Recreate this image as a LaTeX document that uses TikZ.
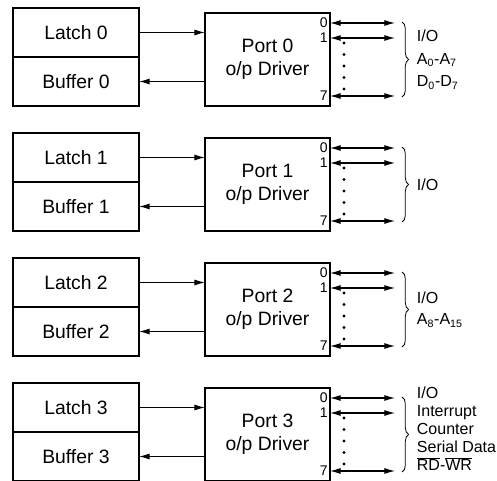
\documentclass[tikz,border=0pt]{standalone}
\usepackage{fontspec}
\setmainfont{Liberation Sans}
\usetikzlibrary{positioning, arrows.meta, decorations.pathreplacing}

\tikzset{
  blk/.style={draw, line width=1pt, outer sep=0pt, inner sep=0pt,
    minimum width=94.5pt, minimum height=36.75pt,
    font=\fontsize{14.5}{16}\selectfont},
  portblk/.style={draw, line width=1pt, outer sep=0pt, align=center,
    minimum width=93.75pt, minimum height=69.75pt,
    font=\fontsize{14.5}{17.5}\selectfont},
  pinnum/.style={anchor=east, inner sep=1.5pt, font=\fontsize{10.5}{10.5}\selectfont},
  sig/.style={-{Latex[length=8pt,width=4.5pt]}, line width=0.8pt},
  bus/.style={{Latex[length=8pt,width=4.5pt]}-{Latex[length=8pt,width=4.5pt]}, line width=0.8pt},
  pinbrace/.style={decorate, decoration={brace, amplitude=5pt}, line width=0.6pt},
  siglabel/.style={align=left, inner sep=0pt, font=\fontsize{12}{13.5}\selectfont},
}

\begin{document}
\begin{tikzpicture}[x=0.75pt, y=-0.75pt]
    \useasboundingbox (0,0) rectangle (497,481);

    % --- ONE GROUP PER PORT: latch, buffer, driver, pins ---
    \foreach \i/\t in {0/8, 1/133, 2/258, 3/383} {
        \node[blk, anchor=north west] (latch\i) at (13,\t) {Latch \i};
        \node[blk, anchor=north west] (buf\i) at (latch\i.south west) {Buffer \i};
        \node[portblk, anchor=north west] (port\i) at (205,\t+5) {Port \i\\o/p Driver};

        % latch drives the port, port reads back into the buffer
        \draw[sig] (latch\i.east) -- (latch\i.east -| port\i.west);
        \draw[sig] (buf\i.east -| port\i.west) -- (buf\i.east);

        % pins 0, 1 and 7
        \foreach \p/\dy in {0/15, 1/30, 7/88} {
            \coordinate (pin\i-\p) at (395,\t+\dy);
            \draw[bus] (pin\i-\p -| port\i.east) -- (pin\i-\p);
            \node[pinnum] at (pin\i-\p -| port\i.east) {\p};
        }

        % dots for the pins in between
        \foreach \d in {0,...,4}
            \fill (344,\t+35+\d*11.5) circle (1.3pt);

        % brace round the pins
        \draw[pinbrace] (402,\t+14) -- (402,\t+89);
        \coordinate (tip\i) at (410,\t+51.5);
    }

    % --- PIN FUNCTIONS ---
    \node[siglabel, right=5pt of tip0, font=\fontsize{12}{17}\selectfont] (fn0)
        {I/O\\A\textsubscript{0}-A\textsubscript{7}\\D\textsubscript{0}-D\textsubscript{7}};
    \node[siglabel, right=5pt of tip1] (fn1) {I/O};
    \node[siglabel, right=5pt of tip2, font=\fontsize{12}{16}\selectfont] (fn2)
        {I/O\\A\textsubscript{8}-A\textsubscript{15}};
    \node[siglabel, right=5pt of tip3, yshift=4pt] (fn3)
        {I/O\\Interrupt\\Counter\\Serial Data\\\ensuremath{\overline{\mbox{RD}}}-\ensuremath{\overline{\mbox{WR}}}};

\end{tikzpicture}
\end{document}
